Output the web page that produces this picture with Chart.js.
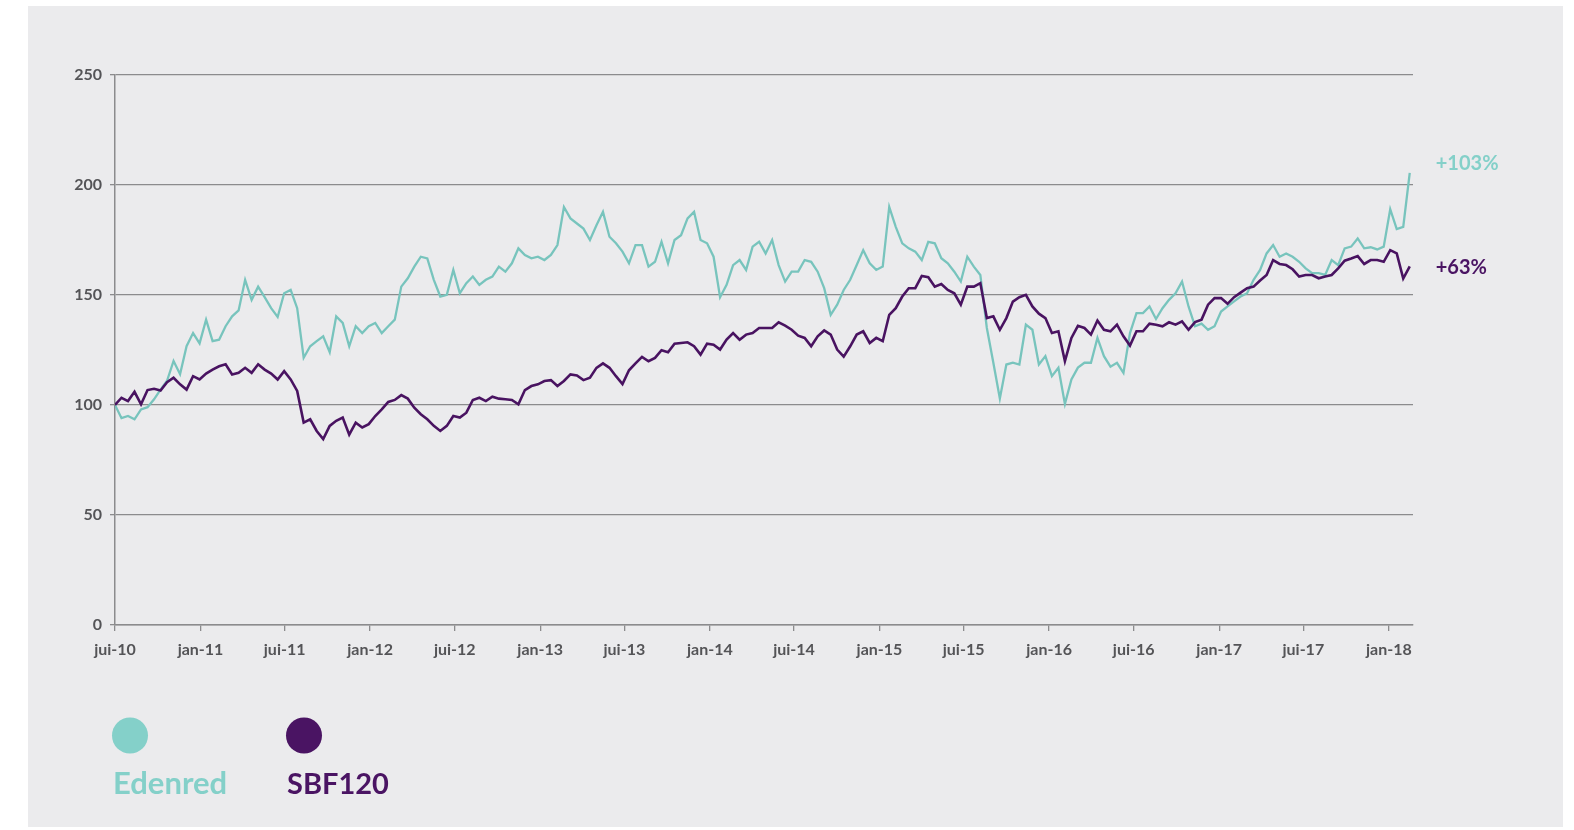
<!DOCTYPE html>
<html>
<head>
<meta charset="utf-8">
<script src="https://cdn.jsdelivr.net/npm/chart.js@4.4.1/dist/chart.umd.min.js"></script>
<style>
  html, body { margin: 0; padding: 0; background: #ffffff; }
  #wrap { position: relative; width: 1574px; height: 830px; }
</style>
</head>
<body>
<div id="wrap"><canvas id="c" width="1574" height="830"></canvas></div>
<script>
const startDate = '2010-07-01';
const stepDays = 14;

const tickLabels = ['jui-10','jan-11','jui-11','jan-12','jui-12','jan-13','jui-13','jan-14','jui-14',
                    'jan-15','jui-15','jan-16','jui-16','jan-17','jui-17','jan-18'];
const tickDates = ['2010-07-01','2011-01-01','2011-07-01','2012-01-01','2012-07-01','2013-01-01',
                   '2013-07-01','2014-01-01','2014-07-01','2015-01-01','2015-07-01','2016-01-01',
                   '2016-07-01','2017-01-01','2017-07-01','2018-01-01'];
const axisEndDate = '2018-02-22';

const seriesNames = ['Edenred', 'SBF120'];
const endLabels = ['+103%', '+63%'];

const edenred = [
  100, 94, 95, 93.5, 98, 99, 102.6, 107, 111, 120,
  114, 126.7, 132.7, 128, 138.8, 129, 129.7, 135.8, 140.3, 143,
  156.9, 147.8, 153.8, 149, 144, 140, 150.8, 152.3, 144, 121.5,
  126.7, 129, 131.2, 124, 140.3, 137.3, 126.7, 135.8, 132.7, 135.8,
  137.3, 132.7, 135.8, 138.8, 153.8, 157.6, 162.9, 167.4, 166.6, 156.9,
  149.3, 150.1, 161.4, 150.8, 155.4, 158.4, 154.6, 156.9, 158.4, 162.9,
  160.6, 164.4, 171.2, 168.2, 166.7, 167.4, 165.9, 168.2, 172.7, 190,
  184.8, 182.5, 180.2, 175, 181.7, 187.8, 176.5, 173.5, 169.7, 164.4,
  172.7, 172.7, 162.9, 165.1, 174.2, 164.4, 175, 177.2, 184.8, 187.8,
  175, 173.5, 167.4, 149, 154.6, 163.6, 165.9, 161.4, 172, 174.2,
  168.9, 175, 163.6, 156.1, 160.6, 160.6, 165.9, 165.1, 160.6, 153.1,
  141, 145.6, 152.3, 156.9, 163.6, 170.4, 164.4, 161.4, 162.9, 190,
  181, 173.5, 171.2, 169.7, 165.9, 174.2, 173.5, 166.7, 164.4, 160.6,
  156.1, 167.4, 162.9, 159.1, 135, 119.2, 103, 118.4, 119.2, 118.4,
  136.5, 134.2, 118.4, 122.2, 113.1, 116.9, 100.5, 111.6, 117, 119.2,
  119.2, 130.5, 122.2, 117.4, 119.2, 114.6, 132.7, 141.8, 141.8, 144.8,
  139.1, 144, 147.8, 150.8, 156.1, 144.8, 135.8, 137, 134.2, 135.8,
  142.5, 144.8, 147.1, 149.3, 150.8, 156.9, 161.4, 168.9, 172.7, 167.4,
  168.9, 167.4, 165.1, 162.1, 159.9, 159.9, 159.1, 165.9, 163.6, 171.2,
  172, 175.7, 171.2, 171.7, 170.7, 172, 189, 180, 181, 205.5
];

const sbf120 = [
  100, 103.3, 101.8, 106, 100.3, 106.8, 107.4, 106.6, 110.4, 112.4,
  109.4, 107, 113.1, 111.6, 114.3, 116.1, 117.6, 118.5, 113.9, 114.6,
  116.9, 114.6, 118.5, 116.1, 114.3, 111.6, 115.4, 111.6, 106.4, 92,
  93.5, 88.2, 84.5, 90.5, 92.8, 94.3, 86.5, 92, 89.8, 91.3,
  95, 98, 101.4, 102.3, 104.5, 102.9, 98.8, 95.8, 93.5, 90.5,
  88.2, 90.5, 95, 94.3, 96.5, 102.3, 103.3, 101.8, 103.8, 102.9,
  102.6, 102.3, 100.3, 106.8, 108.6, 109.4, 110.9, 111.3, 108.6, 110.9,
  113.9, 113.4, 111.3, 112.4, 116.9, 118.9, 116.9, 113.1, 109.5, 115.8,
  118.9, 121.9, 119.9, 121.4, 124.9, 124, 127.9, 128.2, 128.5, 126.7,
  122.9, 127.9, 127.4, 125.2, 129.7, 132.7, 129.7, 132, 132.7, 135,
  135, 135, 137.6, 136.1, 134.2, 131.5, 130.5, 126.7, 131.2, 133.9,
  132, 125.2, 122, 126.7, 132, 133.5, 128.2, 130.5, 129, 141,
  144, 149.3, 153.1, 153.1, 158.7, 158.1, 153.8, 155, 152.3, 150.8,
  145.6, 153.8, 153.8, 155.4, 139.5, 140.3, 134.2, 139.5, 147, 149,
  150.1, 144.8, 141.5, 139.5, 132.7, 133.5, 119.9, 130.5, 136, 135,
  132, 138.4, 134.2, 133.5, 136.5, 131.2, 127, 133.5, 133.5, 137,
  136.5, 135.8, 137.6, 136.5, 138, 134.2, 137.7, 138.8, 145.6, 148.6,
  148.6, 146, 149, 151.1, 153.1, 153.8, 156.6, 159.1, 165.9, 164.1,
  163.6, 161.7, 158.4, 159.1, 159.1, 157.6, 158.4, 159.1, 162.1, 165.6,
  166.6, 167.7, 164.1, 165.9, 165.9, 165.1, 170.4, 168.9, 157.5, 163
];

const yTickStep = 50;
const yMin = 0, yMax = 250;

// ---- helpers ----
const DAY = 86400000;
const t0 = Date.parse(startDate + 'T00:00:00Z');
const dayOf = s => Math.round((Date.parse(s + 'T00:00:00Z') - t0) / DAY);
const tickDays = tickDates.map(dayOf);
const toPoints = arr => arr.map((v, i) => ({ x: i * stepDays, y: v }));

const COLORS = {
  edenLine: '#78c4bd', edenSoft: '#84d0c9',
  sbfLine: '#491361', sbfSoft: '#4a1463',
  grid: '#8b8b8d', tick: '#545457', panel: '#ebebed'
};

const tickFont = { family: 'Lato', weight: 'bold', size: 16 };

const decorPlugin = {
  id: 'decor',
  beforeDraw(chart) {
    const ctx = chart.ctx;
    ctx.save();
    ctx.fillStyle = '#ffffff';
    ctx.fillRect(0, 0, chart.width, chart.height);
    ctx.fillStyle = COLORS.panel;
    ctx.fillRect(28, 6, 1535, 821);
    ctx.restore();
  },
  afterDraw(chart) {
    const ctx = chart.ctx;
    const ys = chart.scales.y;
    const xs = chart.scales.x;
    ctx.save();
    // end labels
    ctx.font = 'bold 20px Lato';
    ctx.textBaseline = 'middle';
    ctx.textAlign = 'left';
    const offs = [-9, 1];
    const cols = [COLORS.edenSoft, COLORS.sbfSoft];
    chart.data.datasets.forEach((ds, k) => {
      const last = ds.data[ds.data.length - 1];
      const px = xs.getPixelForValue(last.x);
      const py = ys.getPixelForValue(last.y);
      ctx.fillStyle = cols[k];
      ctx.fillText(endLabels[k], px + 26, py + offs[k]);
    });
    // legend
    const legX = [130, 304];
    ctx.textBaseline = 'alphabetic';
    const legFont = [31, 29];
    seriesNames.forEach((name, k) => {
      ctx.fillStyle = cols[k];
      ctx.beginPath();
      ctx.arc(legX[k], 735.5, 18, 0, Math.PI * 2);
      ctx.fill();
      ctx.font = 'bold ' + legFont[k] + 'px Lato';
      ctx.fillText(name, legX[k] - 17, 794);
    });
    ctx.restore();
  }
};

new Chart(document.getElementById('c'), {
  type: 'line',
  data: {
    datasets: [
      { label: seriesNames[0], data: toPoints(edenred), borderColor: COLORS.edenLine,
        borderWidth: 2.3, pointRadius: 0, tension: 0, order: 1 },
      { label: seriesNames[1], data: toPoints(sbf120), borderColor: COLORS.sbfLine,
        borderWidth: 2.6, pointRadius: 0, tension: 0, order: 0 }
    ]
  },
  options: {
    responsive: false,
    animation: false,
    devicePixelRatio: 1,
    layout: { padding: { top: 75, right: 161, bottom: 0, left: 0 } },
    plugins: { legend: { display: false }, tooltip: { enabled: false } },
    scales: {
      x: {
        type: 'linear',
        min: 0,
        max: dayOf(axisEndDate),
        afterBuildTicks: s => { s.ticks = tickDays.map(v => ({ value: v })); },
        afterFit: s => { s.height = 205; },
        ticks: {
          autoSkip: false, maxRotation: 0, minRotation: 0,
          callback: (v, i) => tickLabels[i],
          font: tickFont, color: COLORS.tick, padding: 9
        },
        grid: { drawOnChartArea: false, drawTicks: true, tickLength: 6, color: COLORS.grid, lineWidth: 1.3 },
        border: { color: COLORS.grid, width: 1.5 }
      },
      y: {
        min: yMin, max: yMax,
        afterFit: s => { s.width = 115; },
        ticks: { stepSize: yTickStep, font: tickFont, color: COLORS.tick, padding: 8 },
        grid: { color: COLORS.grid, lineWidth: 1.3, tickLength: 5, drawTicks: true },
        border: { color: COLORS.grid, width: 1.5 }
      }
    }
  },
  plugins: [decorPlugin]
});
</script>
</body>
</html>
